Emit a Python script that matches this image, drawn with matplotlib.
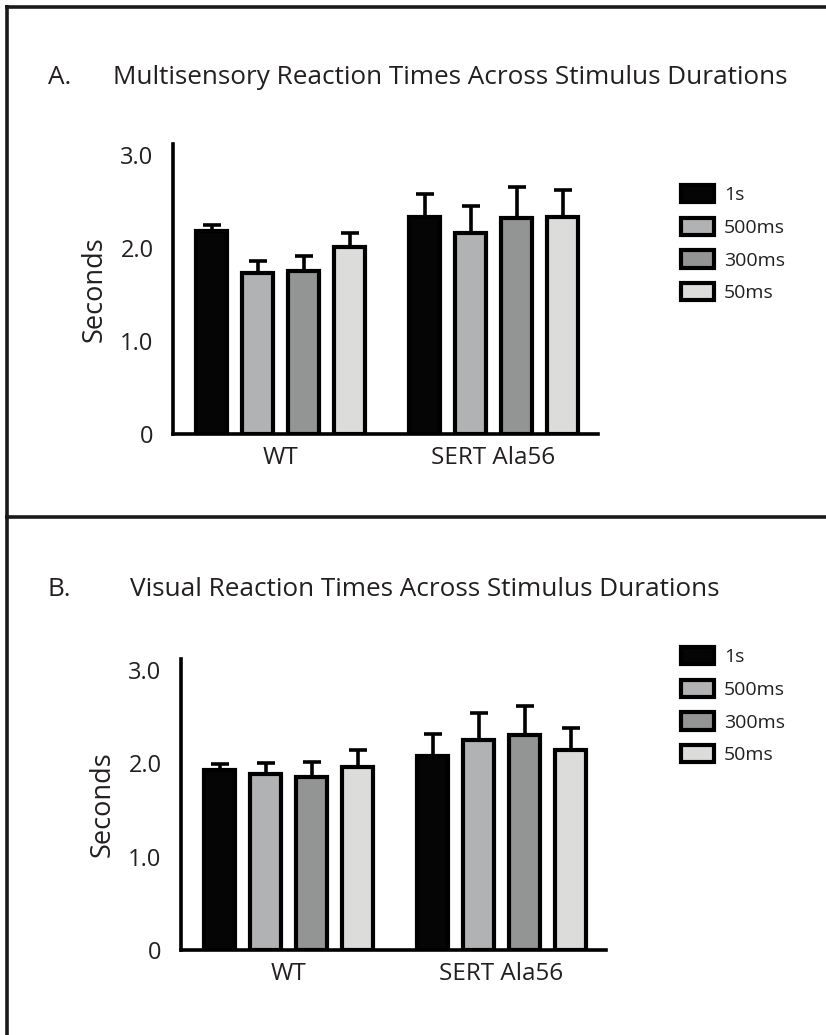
import matplotlib
matplotlib.use("Agg")
import matplotlib.pyplot as plt
from matplotlib.lines import Line2D
from matplotlib.patches import Patch
import numpy as np

plt.rcParams['font.family'] = ['Open Sans', 'DejaVu Sans']

# ---- data -------------------------------------------------------------
groups = ["WT", "SERT Ala56"]
durations = ["1s", "500ms", "300ms", "50ms"]
bar_colors = ["#050505", "#b1b2b4", "#939594", "#dcdcdb"]

multi_mean = [[2.18, 1.73, 1.75, 2.01],
              [2.34, 2.16, 2.32, 2.34]]
multi_sem = [[0.07, 0.13, 0.17, 0.15],
             [0.24, 0.29, 0.34, 0.28]]

visual_mean = [[1.93, 1.89, 1.86, 1.96],
               [2.08, 2.25, 2.31, 2.14]]
visual_sem = [[0.06, 0.11, 0.16, 0.18],
              [0.24, 0.29, 0.31, 0.24]]

yticks = [0, 1, 2, 3]
ytick_labels = ["0", "1.0", "2.0", "3.0"]

titles = ["Multisensory Reaction Times Across Stimulus Durations",
          "Visual Reaction Times Across Stimulus Durations"]
panel_letters = ["A.", "B."]

# ---- layout -----------------------------------------------------------
W, H = 826, 1035
DPI = 100
INK = "#231f20"
fig = plt.figure(figsize=(W / DPI, H / DPI), dpi=DPI)


def px_axes(x0, y_top, x1, y_bot):
    return fig.add_axes([x0 / W, 1 - y_bot / H, (x1 - x0) / W, (y_bot - y_top) / H])


def frame_line(xs, ys):
    fig.add_artist(Line2D([x / W for x in xs], [1 - y / H for y in ys],
                          transform=fig.transFigure, color="#1a1a1a", lw=2.6,
                          solid_capstyle="butt"))


# outer frame: left rule, top rule and the divider between panels
frame_line([6.5, 6.5], [5, H])
frame_line([5, W], [6.5, 6.5])
frame_line([5, W], [517, 517])

group_offset = 4.63
bar_w = 0.66


def draw_panel(ax, means, sems, title, letter, title_y, title_x, legend_top,
               ylabel_pad):
    for g, (m, s) in enumerate(zip(means, sems)):
        xs = np.arange(len(durations)) + g * group_offset
        ax.errorbar(xs, m, yerr=[np.zeros(len(s)), s], fmt="none",
                    ecolor="black", elinewidth=2.6, capsize=6.5, capthick=2.6,
                    zorder=1)
        ax.bar(xs, m, width=bar_w, color=bar_colors, edgecolor="black",
               linewidth=3.0, zorder=2)
    ax.set_xlim(-0.837, 8.40)
    ax.set_ylim(0, 3.12)
    for side in ("top", "right"):
        ax.spines[side].set_visible(False)
    for side in ("left", "bottom"):
        ax.spines[side].set_linewidth(2.6)
        ax.spines[side].set_color("black")
    ax.set_yticks(yticks)
    ax.set_yticklabels(ytick_labels)
    ax.tick_params(axis="y", length=0, pad=14, labelsize=17, labelcolor=INK)
    centers = [1.5, 1.5 + group_offset]
    ax.set_xticks(centers)
    ax.set_xticklabels(groups)
    ax.tick_params(axis="x", length=0, pad=9, labelsize=17.5, labelcolor=INK)
    ax.set_ylabel("Seconds", fontsize=19.5, color=INK, labelpad=ylabel_pad)

    fig.text(48 / W, 1 - title_y / H, letter, fontsize=18.8, color=INK,
             va="center", ha="left")
    fig.text(title_x / W, 1 - title_y / H, title, fontsize=18.8, color=INK,
             va="center", ha="left")

    handles = [Patch(facecolor=c, edgecolor="black", linewidth=3.0)
               for c in bar_colors]
    fig.legend(handles, durations, loc="upper left",
               bbox_to_anchor=(681 / W, 1 - legend_top / H),
               frameon=False, fontsize=14, handlelength=1.7,
               handleheight=1.0, handletextpad=0.5, labelspacing=0.68,
               borderpad=0, borderaxespad=0, labelcolor=INK)


axA = px_axes(173, 144, 598, 434)
draw_panel(axA, multi_mean, multi_sem, titles[0], panel_letters[0],
           77, 113, 185, 8)

axB = px_axes(181, 659, 606, 950)
draw_panel(axB, visual_mean, visual_sem, titles[1], panel_letters[1],
           589, 130, 647, 8)

fig.savefig("out.png", dpi=DPI)
